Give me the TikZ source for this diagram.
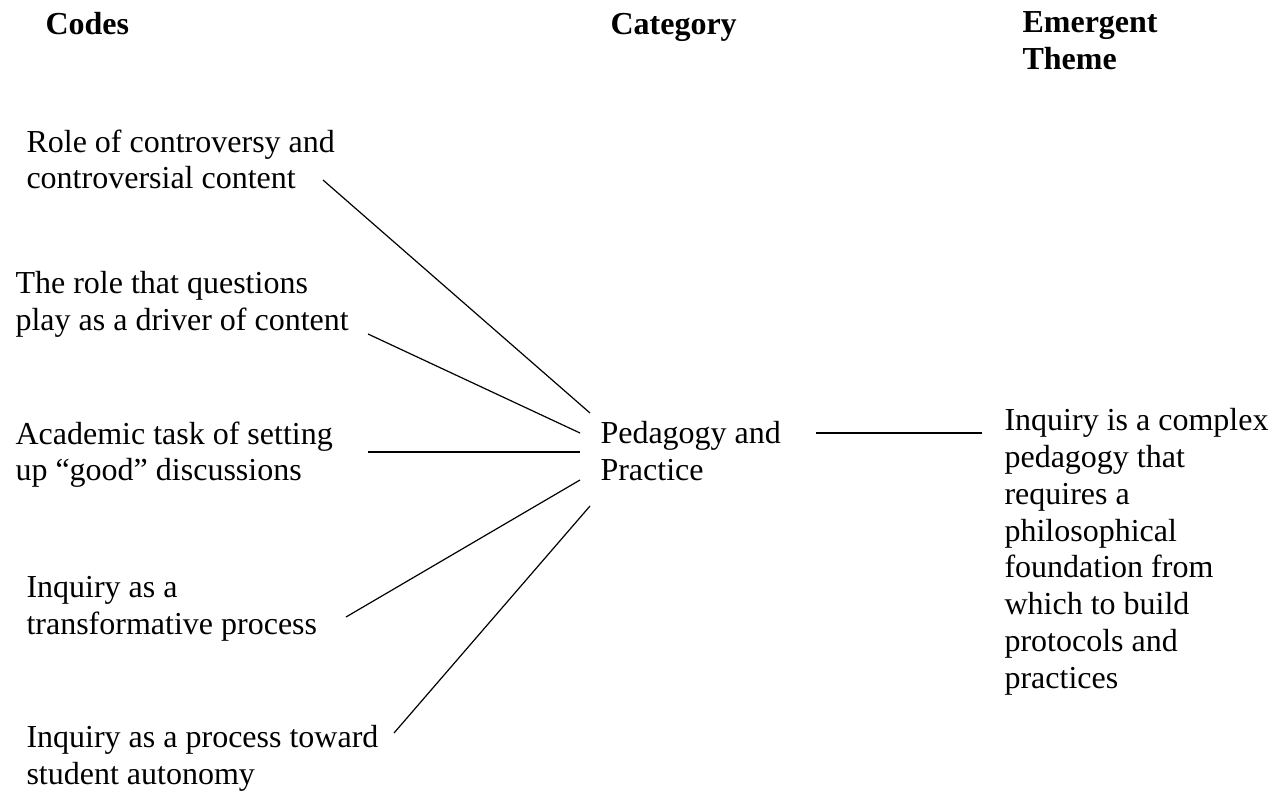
\documentclass[tikz,border=0pt]{standalone}
\usepackage{fontspec}
\setmainfont{Liberation Serif}

\begin{document}
\begin{tikzpicture}[
    x=0.375pt, y=-0.375pt,
    every node/.style={inner sep=0pt, anchor=north west, align=left,
      font=\fontsize{12}{13.8}\selectfont},
    heading/.style={font=\fontsize{12}{13.8}\selectfont\bfseries},
    link/.style={line width=0.45pt},
  ]
  \useasboundingbox (0,0) rectangle (1278,792);

  % Column headings
  \node[heading] (hcodes) at (45,12) {Codes};
  \node[heading] (hcat)   at (610,13) {Category};
  \node[heading] (htheme) at (1022,11) {Emergent\\Theme};

  % Codes
  \node (c1) at (26,129) {Role of controversy and\\controversial content};
  \node (c2) at (15,271) {The role that questions\\play as a driver of content};
  \node (c3) at (15,421) {Academic task of setting\\up “good” discussions};
  \node (c4) at (26,576) {Inquiry as a\\transformative process};
  \node (c5) at (26,725) {Inquiry as a process toward\\student autonomy};

  % Category and theme
  \node (cat) at (600,421) {Pedagogy and\\Practice};
  \node (theme) at (1004,408) {Inquiry is a complex\\pedagogy that\\requires a\\philosophical\\foundation from\\which to build\\protocols and\\practices};

  % Codes into the category
  \draw[link] ([shift={(297,51)}]c1.north west) -- ([shift={(-10,-8)}]cat.north west);
  \draw[link] ([shift={(353,63)}]c2.north west) -- ([shift={(-20,12)}]cat.north west);
  \draw[link] ([shift={(353,31)}]c3.north west) -- ([shift={(-20,31)}]cat.north west);
  \draw[link] ([shift={(320,41)}]c4.north west) -- ([shift={(-20,59)}]cat.north west);
  \draw[link] ([shift={(368,8)}]c5.north west)  -- ([shift={(-10,85)}]cat.north west);

  % Category to theme
  \draw[link] ([shift={(216,12)}]cat.north west) -- ([shift={(-22,25)}]theme.north west);
\end{tikzpicture}
\end{document}
